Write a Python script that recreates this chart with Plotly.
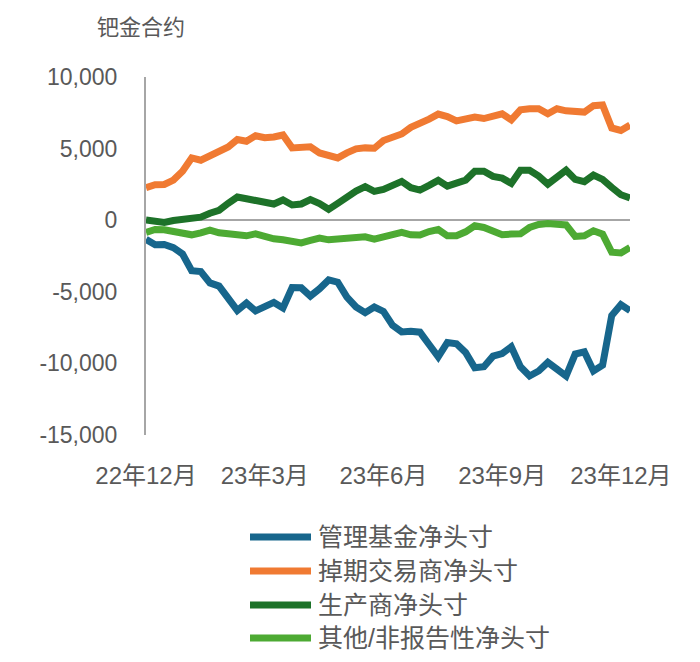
import plotly.graph_objects as go

weeks = list(range(54))
tick_positions = [0, 13, 26, 39, 52]
tick_labels = ["22年12月", "23年3月", "23年6月", "23年9月", "23年12月"]
y_ticks = [-15000, -10000, -5000, 0, 5000, 10000]
y_tick_labels = ["-15,000", "-10,000", "-5,000", "0", "5,000", "10,000"]

managed_money = [-1340, -1710, -1690, -1920, -2360, -3520, -3590, -4380, -4600, -5370,
                 -6300, -5790, -6340, -6040, -5740, -6130, -4700, -4720, -5300, -4790,
                 -4170, -4330, -5370, -6060, -6460, -6060, -6370, -7340, -7800,
                 -7750, -7820, -8680, -9540, -8540, -8630, -9240, -10300, -10230, -9490,
                 -9310, -8840, -10230, -10880, -10530, -9930, -10400, -10880, -9350, -9190,
                 -10530, -10120, -6650, -5900, -6320]
swap_dealers = [2270, 2480, 2500, 2800, 3420, 4350, 4190, 4510, 4740, 5110,
                5630, 5510, 5900, 5760, 5810, 5950, 5050, 5090, 5120, 4700,
                4540, 4350, 4700, 4980, 5050, 5020, 5560, 5740, 6020,
                6480, 6740, 7060, 7410, 7240, 6940, 7130, 7200, 7100, 7240,
                7430, 7010, 7710, 7780, 7780, 7430, 7780, 7640, 7570, 7550,
                8000, 8050, 6440, 6270, 6640]
producers = [20, -120, -160, -20, 50, 160, 210, 490, 690, 1180,
             1620, 1500, 1370, 1300, 1130, 1410, 1060, 1130, 1440, 1160,
             760, 1180, 1640, 2030, 2340, 2010, 2150, 2500, 2710,
             2270, 2100, 2430, 2780, 2380, 2570, 2800, 3420, 3420, 3060,
             2940, 2570, 3490, 3490, 3080, 2520, 3030, 3490, 2850, 2690,
             3150, 2850, 2290, 1780, 1550]
others = [-850, -650, -670, -790, -970, -1020, -880, -690, -880, -930,
          -950, -1090, -950, -1160, -1300, -1370, -1460, -1580, -1410, -1250,
          -1370, -1320, -1230, -1180, -1160, -1320, -1160, -930, -850,
          -1020, -1040, -790, -650, -1090, -1090, -810, -390, -510, -810,
          -1020, -970, -950, -510, -300, -230, -230, -330, -1130, -1090,
          -740, -970, -2240, -2290, -1900]

series_names = ["管理基金净头寸", "掉期交易商净头寸", "生产商净头寸", "其他/非报告性净头寸"]
series_values = [managed_money, swap_dealers, producers, others]
series_colors = ["#17668C", "#F07A32", "#1D7229", "#4DAA33"]

FONT = "Liberation Sans, Noto Sans CJK SC, sans-serif"
TXT = "#595959"

# page body has an 8px margin: figure drawn 8px smaller, offsets compensated
OFF = 8
W, H = 700 - OFF, 662 - OFF
# plot area in reference-picture pixels
PL, PR, PT, PB = 146, 630, 77, 435
def px_x(px):
    return (px - PL) / (PR - PL)
def px_y(py):
    return (PB - py) / (PB - PT)

fig = go.Figure()
for name, vals, col in zip(series_names, series_values, series_colors):
    fig.add_trace(go.Scatter(x=weeks, y=vals, mode="lines", name=name,
                             line=dict(color=col, width=7), showlegend=False))

# custom legend (long line samples, as in the reference)
legend_rows = [537, 571, 605, 638]
shapes = []
annotations = [dict(text="钯金合约", xref="paper", yref="paper",
                    x=px_x(95), y=px_y(28), xanchor="left", yanchor="middle",
                    showarrow=False, font=dict(size=22, color=TXT))]
for name, col, row in zip(series_names, series_colors, legend_rows):
    shapes.append(dict(type="line", xref="paper", yref="paper",
                       x0=px_x(250), x1=px_x(311), y0=px_y(row), y1=px_y(row),
                       line=dict(color=col, width=7)))
    annotations.append(dict(text=name, xref="paper", yref="paper",
                            x=px_x(316), y=px_y(row), xanchor="left", yanchor="middle",
                            showarrow=False, font=dict(size=25, color=TXT)))

fig.update_layout(
    width=W, height=H,
    margin=dict(l=PL - OFF, r=700 - PR, t=PT - OFF, b=662 - PB, autoexpand=False),
    paper_bgcolor="white", plot_bgcolor="white",
    font=dict(family=FONT, color=TXT, size=23),
    showlegend=False,
    shapes=shapes,
    annotations=annotations,
)
fig.update_xaxes(range=[0, 53], tickvals=tick_positions, ticktext=tick_labels,
                 showgrid=False, zeroline=False, showline=False,
                 ticks="", ticklabelstandoff=24, tickfont=dict(size=24, color=TXT))
fig.update_yaxes(range=[-15000, 10000], tickvals=y_ticks, ticktext=y_tick_labels,
                 showgrid=False, zeroline=True, zerolinecolor="#A6A6A6", zerolinewidth=2,
                 showline=True, linecolor="#A6A6A6", linewidth=2,
                 ticks="", ticklabelstandoff=22, tickfont=dict(size=23, color=TXT))

fig.write_html("out.html")
